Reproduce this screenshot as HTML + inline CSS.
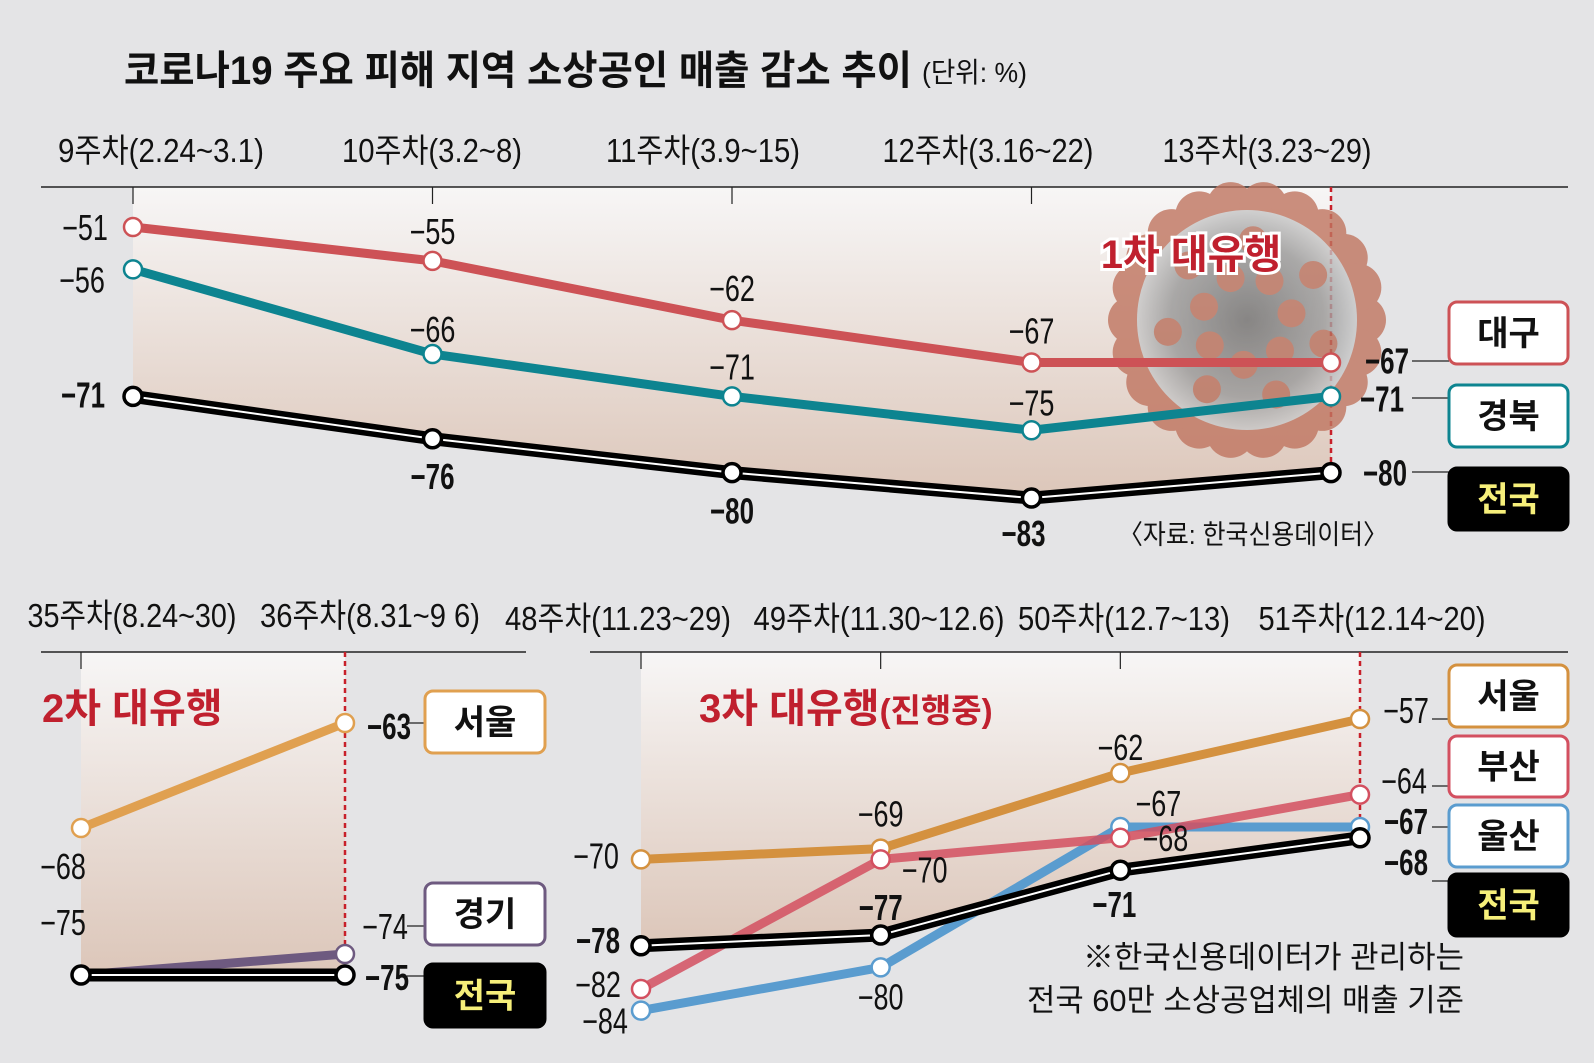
<!DOCTYPE html>
<html><head><meta charset="utf-8">
<style>
html,body{margin:0;padding:0;background:#e4e4e6;}
svg{display:block;}
text{font-family:"Liberation Sans","Noto Sans CJK KR",sans-serif;}
</style></head>
<body>
<svg id="c" width="1594" height="1063" viewBox="0 0 1594 1063" xmlns="http://www.w3.org/2000/svg">
<defs>
<linearGradient id="gA" x1="0" y1="0" x2="0" y2="1"><stop offset="0" stop-color="#f7f6f6"/><stop offset="1" stop-color="#dcc6b9"/></linearGradient>
<radialGradient id="core" cx="0.5" cy="0.5" r="0.5"><stop offset="0" stop-color="#6f6f6f"/><stop offset="0.7" stop-color="#999"/><stop offset="1" stop-color="#c8c8c8"/></radialGradient>
</defs>
<text x="124" y="84" font-size="40" font-weight="bold" fill="#111" textLength="788" lengthAdjust="spacingAndGlyphs">코로나19 주요 피해 지역 소상공인 매출 감소 추이</text>
<text x="922" y="82" font-size="28" fill="#111" textLength="105" lengthAdjust="spacingAndGlyphs">(단위: %)</text>
<g id="layer"></g>
</svg>
<script>
// ---- data ----
const topWeeks = ["9주차(2.24~3.1)","10주차(3.2~8)","11주차(3.9~15)","12주차(3.16~22)","13주차(3.23~29)"];
const topDaegu = [-51,-55,-62,-67,-67];
const topGyeongbuk = [-56,-66,-71,-75,-71];
const topNation = [-71,-76,-80,-83,-80];
const leftWeeks = ["35주차(8.24~30)","36주차(8.31~9 6)"];
const leftSeoul = [-68,-63];
const leftGyeonggi = [-75,-74];
const leftNation = [-75,-75];
const rightWeeks = ["48주차(11.23~29)","49주차(11.30~12.6)","50주차(12.7~13)","51주차(12.14~20)"];
const rightSeoul = [-70,-69,-62,-57];
const rightBusan = [-82,-70,-68,-64];
const rightUlsan = [-84,-80,-67,-67];
const rightNation = [-78,-77,-71,-68];

const NS="http://www.w3.org/2000/svg";
const layer=document.getElementById('layer');
function el(tag,attrs,parent){const e=document.createElementNS(NS,tag);for(const k in attrs)e.setAttribute(k,attrs[k]);(parent||layer).appendChild(e);return e;}
function txt(x,y,s,size,opts){opts=opts||{};const t=el('text',{x:x,y:y,'font-size':size,'text-anchor':opts.anchor||'middle',fill:opts.fill||'#111','font-weight':opts.bold?'bold':'normal'});
  if(opts.narrow){t.setAttribute('x',0);t.setAttribute('y',0);t.setAttribute('transform','translate('+x+','+y+') scale('+opts.narrow+',1)');}
  if(opts.len){t.setAttribute('textLength',opts.len);t.setAttribute('lengthAdjust','spacingAndGlyphs');}
  t.textContent=s;return t;}

// axis functions
const topX=i=>133+i*(1331-133)/4;
const topY=v=>227+(-51-v)*8.47;
const leftX=i=>81+i*(345-81);
const leftY=v=>723+(-63-v)*21;
const rightX=i=>641+i*(1360-641)/3;
const rightY=v=>719+(-57-v)*10.8;

function panel(xs,n,yf,nation,axisY,lineX0,lineX1){
  let pts=[[xs(0),axisY],[xs(n-1),axisY]];
  for(let i=n-1;i>=0;i--)pts.push([xs(i),yf(nation[i])]);
  const a=el('polygon',{points:pts.map(p=>p.join(',')).join(' '),fill:'url(#gA)'});
  
  
  const ax=el('line',{x1:lineX0,y1:axisY,x2:lineX1,y2:axisY,stroke:'#222','stroke-width':1.5});
  
  
  for(let i=0;i<n-1;i++){
    const t=el('line',{x1:xs(i),y1:axisY,x2:xs(i),y2:axisY+17,stroke:'#222','stroke-width':1.2});
    
    
  }
  const d=el('line',{x1:xs(n-1),y1:axisY,x2:xs(n-1),y2:yf(nation[n-1]),stroke:'#c8202a','stroke-width':2.5,'stroke-dasharray':'5,4'});
  
  
}
function series(xs,yf,vals,color,name,opacity){
  const g=el('g',{});
  
  
  const p=vals.map((v,i)=>xs(i)+','+yf(v)).join(' ');
  const l=el('polyline',{points:p,fill:'none',stroke:color,'stroke-width':9,'stroke-linejoin':'round','stroke-opacity':opacity||1},g);
  
  
  vals.forEach((v,i)=>{const c=el('circle',{cx:xs(i),cy:yf(v),r:9,fill:'#fff',stroke:color,'stroke-width':2.5},g);
    
    });
}
function nationSeries(xs,yf,vals,name){
  const g=el('g',{});
  
  
  const p=vals.map((v,i)=>xs(i)+','+yf(v)).join(' ');
  const l=el('polyline',{points:p,fill:'none',stroke:'#000','stroke-width':13,'stroke-linejoin':'round'},g);
  
  
  el('polyline',{points:p,fill:'none',stroke:'#fff','stroke-width':2},g);
  vals.forEach((v,i)=>{const c=el('circle',{cx:xs(i),cy:yf(v),r:9,fill:'#fff',stroke:'#000','stroke-width':3.5},g);
    
    });
}
function labels(xs,yf,vals,offs,boldIdx){
  vals.forEach((v,i)=>{const o=offs[i];if(!o)return;const b=boldIdx==='all'||(boldIdx&&boldIdx.includes(i));
    const t=txt(xs(i)+o[0],yf(v)+o[1]+13,'−'+Math.abs(v),36,{bold:b,narrow:b?0.72:0.75});
    
    });
}
function box(x,y,w,h,label,stroke,fill,tcolor,name){
  const r=el('rect',{x:x,y:y,width:w,height:h,rx:8,fill:fill,stroke:stroke,'stroke-width':3});
  
  
  const t=txt(x+w/2,y+h/2+12,label,34,{bold:true,fill:tcolor});
  
  
}
function leader(x1,y,x2){el('line',{x1:x1,y1:y,x2:x2,y2:y,stroke:'#222','stroke-width':1.3});}
function weeks(list,cxs,lens,y){list.forEach((w,i)=>{const t=txt(cxs[i],y,w,33,{len:lens[i]});});}

// ---- top panel ----
panel(topX,5,topY,topNation,187,41,1568);
(function(){
  const g=el('g',{opacity:0.8});
  
  
  const cx=1247,cy=320;
  for(let k=0;k<22;k++){const a=k/22*Math.PI*2;el('circle',{cx:cx+Math.cos(a)*115,cy:cy+Math.sin(a)*115,r:24,fill:'#c07560'},g);}
  el('circle',{cx:cx,cy:cy,r:110,fill:'url(#core)'},g);
  for(let k=0;k<14;k++){const a=k/14*Math.PI*2+0.3;const rr=k%2?45:80;el('circle',{cx:cx+Math.cos(a)*rr,cy:cy+Math.sin(a)*rr,r:14,fill:'#b8705c'},g);}
})();
series(topX,topY,topDaegu,'#cd5256','daegu');
series(topX,topY,topGyeongbuk,'#0d8490','gyeongbuk');
nationSeries(topX,topY,topNation,'top-nation');
labels(topX,topY,topDaegu,[[-48,0],[0,-30],[0,-32],[0,-32],[56,-2]],[4]);
labels(topX,topY,topGyeongbuk,[[-51,10],[0,-25],[0,-30],[0,-28],[51,2]],[4]);
labels(topX,topY,topNation,[[-50,-2],[0,37],[0,38],[-8,35],[54,0]],'all');
weeks(topWeeks,[161,432,703,988,1267],[206,180,194,211,209],162);
const t1=txt(1191,268,'1차 대유행',40,{bold:true,fill:'#c0202e'});
t1.setAttribute('stroke','#fff');t1.setAttribute('stroke-width','6');t1.setAttribute('paint-order','stroke');


leader(1412,361,1449);leader(1412,398,1449);leader(1412,472,1449);
box(1449,302,119,62,'대구','#cd5256','#fff','#111','legend-daegu');
box(1449,385,119,62,'경북','#0d8490','#fff','#111','legend-gyeongbuk');
box(1449,468,119,62,'전국','#000','#000','#f6ef7a','legend-nation-top');
const src=txt(1253,544,'〈자료: 한국신용데이터〉',27,{len:270});



// ---- bottom left ----
panel(leftX,2,leftY,leftNation,652,41,526);
series(leftX,leftY,leftSeoul,'#e0a050','left-seoul');
series(leftX,leftY,leftGyeonggi,'#6e5a80','left-gyeonggi');
nationSeries(leftX,leftY,leftNation,'left-nation');
labels(leftX,leftY,leftSeoul,[[-18,38],[44,3]],[1]);
labels(leftX,leftY,leftGyeonggi,[[-18,-53],[40,-28]],[]);
labels(leftX,leftY,leftNation,[null,[42,2]],[1]);
weeks(leftWeeks,[132,370],[209,220],627);
const t2=txt(42,722,'2차 대유행',40,{bold:true,fill:'#c0202e',anchor:'start'});


leader(407,723,425);leader(407,926,425);leader(407,976,425);
box(425,691,120,62,'서울','#e0a050','#fff','#111','legend-left-seoul');
box(425,883,120,62,'경기','#6e5a80','#fff','#111','legend-left-gyeonggi');
box(425,964,120,63,'전국','#000','#000','#f6ef7a','legend-left-nation');

// ---- bottom right ----
panel(rightX,4,rightY,rightNation,652,590,1568);
series(rightX,rightY,rightSeoul,'#d4913f','right-seoul');
series(rightX,rightY,rightUlsan,'#5a9ccf','right-ulsan');
series(rightX,rightY,rightBusan,'#d35060','right-busan',0.85);
nationSeries(rightX,rightY,rightNation,'right-nation');
labels(rightX,rightY,rightSeoul,[[-45,-4],[0,-35],[0,-26],[46,-9]],[]);
labels(rightX,rightY,rightBusan,[[-43,-5],[44,10],[45,0],[44,-14]],[]);
labels(rightX,rightY,rightUlsan,[[-36,10],[0,29],[38,-24],[46,-6]],[3]);
labels(rightX,rightY,rightNation,[[-43,-6],[0,-28],[-6,34],[46,24]],'all');
weeks(rightWeeks,[618,879,1124,1372],[226,251,212,227],630);
const t3=txt(699,722,'3차 대유행',40,{bold:true,fill:'#c0202e',anchor:'start'});
const ts=el('tspan',{'font-size':33},t3);ts.textContent='(진행중)';


leader(1432,719,1449);leader(1432,786,1449);leader(1432,827,1449);leader(1432,881,1449);
box(1449,665,119,62,'서울','#d4913f','#fff','#111','legend-right-seoul');
box(1449,736,119,61,'부산','#d35060','#fff','#111','legend-right-busan');
box(1449,805,119,62,'울산','#5a9ccf','#fff','#111','legend-right-ulsan');
box(1449,874,119,62,'전국','#000','#000','#f6ef7a','legend-right-nation');
const n1=txt(1464,968,'※한국신용데이터가 관리하는',31,{anchor:'end',len:381});


const n2=txt(1464,1011,'전국 60만 소상공업체의 매출 기준',31,{anchor:'end',len:437});


</script>
</body></html>
